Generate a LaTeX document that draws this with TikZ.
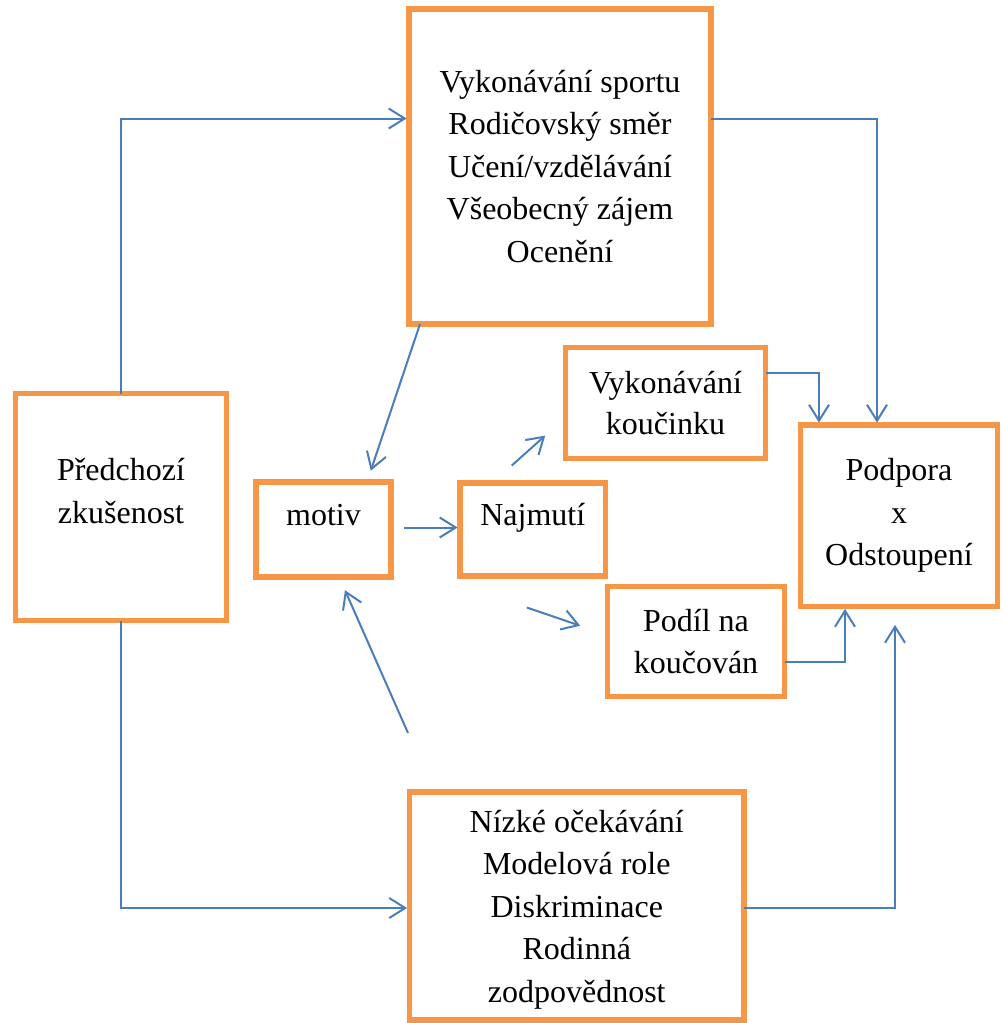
\documentclass[tikz,border=0pt]{standalone}
\usepackage{fontspec}
\setmainfont{Liberation Serif}
\usetikzlibrary{arrows.meta, positioning}
\definecolor{boxorange}{HTML}{F79646}
\definecolor{arrowblue}{HTML}{4A7EBB}
\tikzset{
  box/.style={draw=boxorange, line width=2.8pt, inner sep=0pt, outer sep=0pt, align=center, font=\fontsize{16}{21.25}\selectfont},
  arr/.style={->, draw=arrowblue, line width=1pt, shorten >=1.2pt},
}

\begin{document}
\begin{tikzpicture}[x=0.5pt, y=-0.5pt, >={Straight Barb[length=8pt,width=10pt]}]
        \useasboundingbox (0,0) rectangle (1003,1023);
        \node[box, minimum width=151pt, minimum height=157.5pt] (sport) at (560,166.5) {Vykonávání sportu\\Rodičovský směr\\Učení/vzdělávání\\Všeobecný zájem\\Ocenění};
        \node[box, minimum width=105.5pt, minimum height=113.5pt, text height=32.5pt, text depth=16.5pt] (prev) at (121,507) {Předchozí\\zkušenost};
        \node[box, minimum width=67.5pt, minimum height=47.5pt, text height=11pt, text depth=15.5pt] (motiv) at (323.5,529.5) {motiv};
        \node[box, minimum width=72.75pt, minimum height=46.5pt, text height=11pt, text depth=15pt, right=34.5pt of motiv] (hire) {Najmutí};
        \node[box, minimum width=100pt, minimum height=55.5pt, font=\fontsize{16}{20.5}\selectfont] (coach) at (665.5,403) {Vykonávání\\koučinku};
        \node[box, minimum width=98.5pt, minimum height=90.75pt] (support) at (899,515.75) {Podpora\\x\\Odstoupení};
        \node[box, minimum width=88.5pt, minimum height=55pt] (share) at (696,641.5) {Podíl na\\koučován};
        \node[box, minimum width=167.25pt, minimum height=114pt, text depth=-2.5pt] (barrier) at (576.75,906) {Nízké očekávání\\Modelová role\\Diskriminace\\Rodinná\\zodpovědnost};

        % loose arrow ends
        \coordinate (m1) at ([xshift=23.25pt,yshift=4.5pt]motiv.north);
        \coordinate (h1) at ([xshift=-10.5pt,yshift=8.75pt]hire.north);
        \coordinate (h2) at ([xshift=-9.25pt,yshift=12.25pt]coach.south west);
        \coordinate (h3) at ([xshift=-3pt,yshift=-15.75pt]hire.south);
        \coordinate (h4) at ([xshift=-12.5pt,yshift=7.5pt]share.west);
        \coordinate (b1) at ([xshift=-0.75pt,yshift=29.5pt]barrier.north west);
        \coordinate (b2) at ([xshift=10.25pt,yshift=-5.5pt]motiv.south);
        \coordinate (s1) at ([xshift=-2pt,yshift=-8pt]support.south);

        \draw[arr] (prev.north) |- ([yshift=24pt]sport.west);
        \draw[arr] (prev.south) |- ([yshift=-1pt]barrier.west);
        \draw[arr] ([yshift=24pt]sport.east) -| ([xshift=-11pt]support.north);
        \draw[arr] ([xshift=-70pt]sport.south) -- (m1);
        \draw[arr] ([xshift=6.5pt,yshift=1pt]motiv.east) -- ([yshift=1pt]hire.west);
        \draw[arr] (h1) -- (h2);
        \draw[arr] (h3) -- (h4);
        \draw[arr] (b1) -- (b2);
        \draw[arr] ([yshift=15.25pt]coach.east) -| ([xshift=-40pt]support.north);
        \draw[arr] ([yshift=-10pt]share.east) -| ([xshift=-27pt]support.south);
        \draw[arr] ([yshift=-1pt]barrier.east) -| (s1);
    \end{tikzpicture}
\end{document}
